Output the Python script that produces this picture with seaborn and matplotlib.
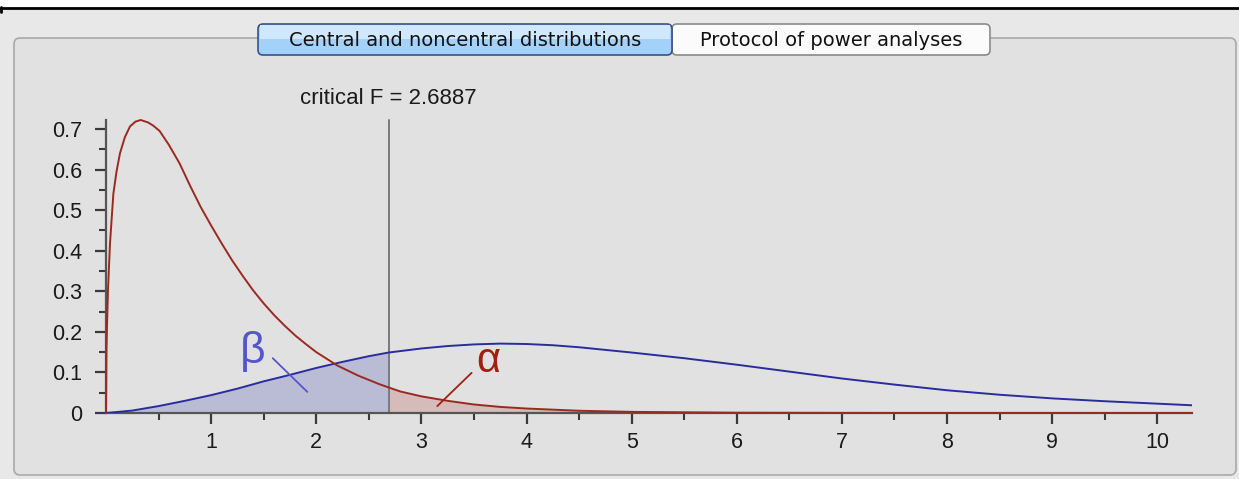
import numpy as np
import pandas as pd
import matplotlib
matplotlib.use("Agg")
import matplotlib.pyplot as plt
from matplotlib.patches import FancyBboxPatch, Rectangle
import seaborn as sns

crit_f = 2.6887

# distribution centrale (H0) - rouge
central_x = [0, 0.005, 0.01, 0.02, 0.038, 0.07, 0.1, 0.133, 0.18, 0.228, 0.28, 0.33, 0.4,
             0.45, 0.51, 0.6, 0.7, 0.8, 0.9, 1.0, 1.1, 1.2, 1.3, 1.4, 1.5, 1.6, 1.7, 1.8,
             1.9, 2.0, 2.2, 2.4, 2.6, 2.6887, 2.8, 3.0, 3.25, 3.5, 3.75, 4.0, 4.5, 5.0,
             6.0, 7.0, 8.0, 10.33]
central_y = [0, 0.16, 0.22, 0.31, 0.418, 0.54, 0.595, 0.64, 0.68, 0.706, 0.718, 0.722,
             0.716, 0.708, 0.695, 0.66, 0.615, 0.56, 0.508, 0.462, 0.418, 0.376, 0.338,
             0.302, 0.270, 0.241, 0.215, 0.191, 0.170, 0.150, 0.117, 0.092, 0.071, 0.063,
             0.053, 0.041, 0.030, 0.021, 0.015, 0.011, 0.0055, 0.0028, 0.0007, 0.0002,
             0.0, 0.0]

# distribution non centrale (H1) - bleu
noncentral_x = [0, 0.25, 0.5, 0.75, 1.0, 1.25, 1.5, 1.75, 2.0, 2.25, 2.5, 2.6887, 3.0,
                3.25, 3.5, 3.75, 4.0, 4.25, 4.5, 5.0, 5.5, 6.0, 6.5, 7.0, 7.5, 8.0, 8.5,
                9.0, 9.5, 10.0, 10.33]
noncentral_y = [0, 0.006, 0.017, 0.030, 0.044, 0.060, 0.078, 0.094, 0.111, 0.126, 0.140,
                0.149, 0.159, 0.165, 0.169, 0.171, 0.170, 0.167, 0.162, 0.149, 0.135,
                0.119, 0.102, 0.085, 0.070, 0.056, 0.045, 0.036, 0.029, 0.023, 0.019]

x_ticks = [1, 2, 3, 4, 5, 6, 7, 8, 9, 10]
y_ticks = [0, 0.1, 0.2, 0.3, 0.4, 0.5, 0.6, 0.7]
y_tick_labels = ["0", "0.1", "0.2", "0.3", "0.4", "0.5", "0.6", "0.7"]
tab_labels = ["Central and noncentral distributions", "Protocol of power analyses"]

RED = "#9a2a1f"
BLUE = "#2a2c9e"

df_c = pd.DataFrame({"x": central_x, "y": central_y})
df_n = pd.DataFrame({"x": noncentral_x, "y": noncentral_y})

sns.set_style("white")
plt.rcParams["font.family"] = ["Liberation Sans", "DejaVu Sans"]

W, H = 1239, 479
fig = plt.figure(figsize=(W / 100, H / 100), dpi=100)
fig.patch.set_facecolor("#e8e8e8")

# fond de fenetre (coordonnees pixels)
bg = fig.add_axes([0, 0, 1, 1])
bg.set_xlim(0, W)
bg.set_ylim(H, 0)
bg.axis("off")
bg.add_patch(Rectangle((0, 0), W, 7, color="white", zorder=1))
bg.plot([0, W], [7.5, 7.5], color="black", lw=2, zorder=2)
bg.plot([1, 1], [7, 12], color="black", lw=2, zorder=2)
bg.add_patch(FancyBboxPatch((14, 38), 1222, 437, boxstyle="round,pad=0,rounding_size=6",
                            facecolor="#e1e1e1", edgecolor="#a9a9a9", lw=1.2, zorder=1))
# onglets
bg.add_patch(FancyBboxPatch((672, 24), 318, 31, boxstyle="round,pad=0,rounding_size=5",
                            facecolor="#fbfbfb", edgecolor="#8a8a8a", lw=1.2, zorder=3))
bg.add_patch(FancyBboxPatch((258, 24), 414, 31, boxstyle="round,pad=0,rounding_size=5",
                            facecolor="#a3d1fa", edgecolor="#3b4f8f", lw=1.2, zorder=4))
bg.add_patch(Rectangle((260, 25), 410, 14, color="#cfe8fd", zorder=4, lw=0))
bg.text(465, 40, tab_labels[0], ha="center", va="center", fontsize=14,
        family="DejaVu Sans", color="#111111", zorder=5)
bg.text(831, 40, tab_labels[1], ha="center", va="center", fontsize=14,
        family="DejaVu Sans", color="#111111", zorder=5)

# graphique principal
ax = fig.add_axes([106 / W, (H - 413) / H, 1086 / W, 293 / H])
ax.set_facecolor("none")

m_c = df_c["x"] >= crit_f
m_n = df_n["x"] <= crit_f
ax.fill_between(df_n["x"][m_n], 0, df_n["y"][m_n], color="#b9bcd4", lw=0, zorder=1)
ax.fill_between(df_c["x"][m_c], 0, df_c["y"][m_c], color="#d5bcbb", lw=0, zorder=1)
ax.plot([crit_f, crit_f], [0, 0.722], color="#7a7a7a", lw=1.4, zorder=2, clip_on=False)

sns.lineplot(data=df_n, x="x", y="y", sort=False, color=BLUE, lw=1.4, ax=ax, zorder=3)
sns.lineplot(data=df_c, x="x", y="y", sort=False, color=RED, lw=1.4, ax=ax, zorder=4,
             clip_on=False)

ax.set_xlim(0, 10.33)
ax.set_ylim(0, 0.722)
ax.set_xlabel("")
ax.set_ylabel("")
ax.set_xticks(x_ticks)
ax.set_xticks(np.arange(0.5, 10.5, 1.0), minor=True)
ax.set_yticks(y_ticks)
ax.set_yticklabels(y_tick_labels)
ax.set_yticks(np.arange(0.05, 0.7, 0.1), minor=True)
ax.tick_params(which="both", bottom=True, left=True, top=False, right=False)
ax.tick_params(which="major", direction="out", length=8, width=1.6, color="#3a3a3a",
               labelsize=15.5, labelcolor="#1a1a1a")
ax.tick_params(which="minor", direction="out", length=5, width=1.5, color="#3a3a3a")
ax.tick_params(axis="x", which="major", pad=6)
ax.tick_params(axis="y", which="major", pad=9)
for s in ["top", "right"]:
    ax.spines[s].set_visible(False)
ax.spines["left"].set_color("#555555")
ax.spines["left"].set_linewidth(1.6)
ax.spines["bottom"].set_color("#555555")
ax.spines["bottom"].set_linewidth(1.6)

ax.text(crit_f, 0.775, "critical F = 2.6887", ha="center", va="center", fontsize=16,
        color="#1a1a1a")
ax.text(1.40, 0.152, "β", ha="center", va="center", fontsize=32, color="#5656cc")
ax.plot([1.586, 1.915], [0.135, 0.052], color="#5656cc", lw=1.3, zorder=5)
ax.text(3.64, 0.128, "α", ha="center", va="center", fontsize=30, color="#a0200f")
ax.plot([3.478, 3.151], [0.099, 0.017], color="#a0200f", lw=1.3, zorder=5)

fig.savefig("out.png", dpi=100, facecolor=fig.get_facecolor())
